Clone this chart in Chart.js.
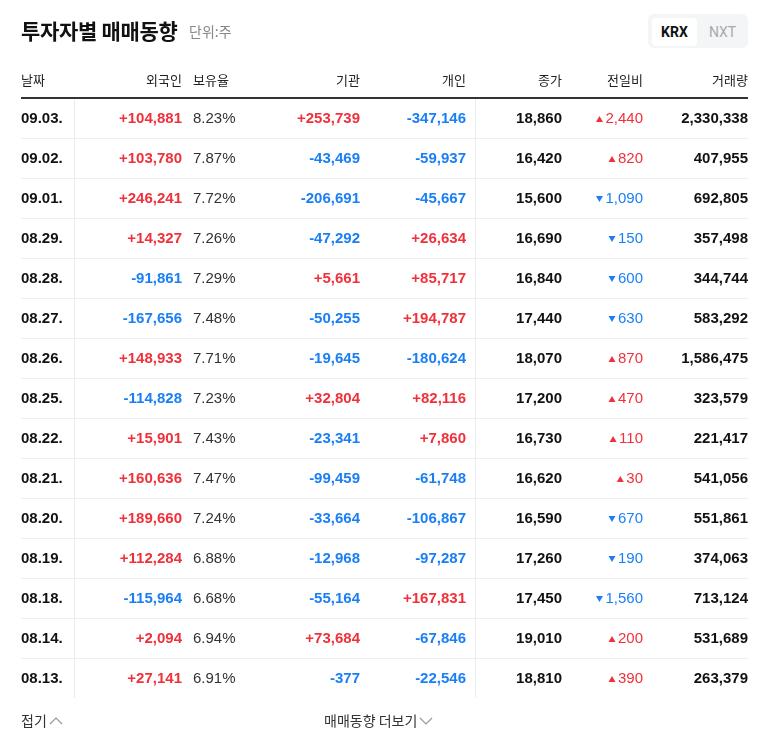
<!DOCTYPE html>
<html><head><meta charset="utf-8">
<script src="https://cdn.jsdelivr.net/npm/chart.js@4/dist/chart.umd.min.js"></script>
<style>
body{margin:0;background:#fff;font-family:"Noto Sans CJK KR","Noto Sans",sans-serif;}
#wrap{position:relative;width:768px;height:749px;}
canvas{position:absolute;left:0;top:0;}
.t{position:absolute;white-space:nowrap;}
</style></head><body>
<div id="wrap">
<canvas id="c" width="768" height="749"></canvas>
<div class="t" style="left:21px;top:15px;font-size:21px;font-weight:700;color:#111;letter-spacing:-0.3px;">투자자별 매매동향</div>
<div class="t" style="left:189px;top:21px;font-size:14px;color:#888;">단위:주</div>
<div class="t" style="left:648px;top:14px;width:100px;height:34px;background:#f4f5f7;border-radius:6px;"></div>
<div class="t" style="left:652px;top:18px;width:45px;height:28px;background:#fff;border-radius:4px;text-align:center;line-height:28px;font-size:14px;font-weight:700;color:#111;font-family:Roboto,sans-serif;">KRX</div>
<div class="t" style="left:700px;top:18px;width:45px;height:28px;text-align:center;line-height:28px;font-size:14px;color:#aaa;font-family:Roboto,sans-serif;">NXT</div>
<div class="t" style="left:21px;top:710px;font-size:14px;color:#333;">접기<svg width="14" height="10" style="margin-left:2px"><polyline points="1,8 7,2 13,8" fill="none" stroke="#999" stroke-width="1.2"/></svg></div>
<div class="t" style="left:324px;top:710px;font-size:14px;color:#333;">매매동향 더보기<svg width="14" height="10" style="margin-left:2px"><polyline points="1,2 7,8 13,2" fill="none" stroke="#999" stroke-width="1.2"/></svg></div>
</div>
<script>
const headers=["날짜","외국인","보유율","기관","개인","종가","전일비","거래량"];
const dates=["09.03.","09.02.","09.01.","08.29.","08.28.","08.27.","08.26.","08.25.","08.22.","08.21.","08.20.","08.19.","08.18.","08.14.","08.13."];
const foreign=[104881,103780,246241,14327,-91861,-167656,148933,-114828,15901,160636,189660,112284,-115964,2094,27141];
const holdRatio=["8.23%","7.87%","7.72%","7.26%","7.29%","7.48%","7.71%","7.23%","7.43%","7.47%","7.24%","6.88%","6.68%","6.94%","6.91%"];
const inst=[253739,-43469,-206691,-47292,5661,-50255,-19645,32804,-23341,-99459,-33664,-12968,-55164,73684,-377];
const indiv=[-347146,-59937,-45667,26634,85717,194787,-180624,82116,7860,-61748,-106867,-97287,167831,-67846,-22546];
const close=[18860,16420,15600,16690,16840,17440,18070,17200,16730,16620,16590,17260,17450,19010,18810];
const change=[2440,820,-1090,-150,-600,-630,870,470,110,30,-670,-190,-1560,200,390];
const volume=[2330338,407955,692805,357498,344744,583292,1586475,323579,221417,541056,551861,374063,713124,531689,263379];

const RED="#f0313b",BLUE="#1a7ff5",DARK="#111";
const fmt=n=>Math.abs(n).toLocaleString('en-US');
const sgn=n=>(n>0?"+":n<0?"-":"")+fmt(n);
const col=n=>n>0?RED:n<0?BLUE:DARK;
const NUM='"Liberation Sans Narrow","Liberation Sans",Roboto,sans-serif';

const tablePlugin={id:'table',afterDraw(chart){
  const ctx=chart.ctx,y=chart.scales.y,a=chart.chartArea;
  ctx.save();
  ctx.font='13px "Noto Sans CJK KR"';ctx.fillStyle='#222';ctx.textBaseline='middle';
  const hx=[[21,'left'],[182,'right'],[193,'left'],[360,'right'],[466,'right'],[562,'right'],[643,'right'],[748,'right']];
  headers.forEach((h,i)=>{ctx.textAlign=hx[i][1];ctx.fillText(h,hx[i][0],80);});
  ctx.fillStyle='#333';ctx.fillRect(21,a.top-1,727,2);
  ctx.fillStyle='#ececec';ctx.fillRect(74,a.top+1,1,a.bottom-a.top-1);ctx.fillRect(475,a.top+1,1,a.bottom-a.top-1);
  dates.forEach((d,i)=>{
    const cy=y.getPixelForValue(i)+1;
    if(i<dates.length-1){ctx.fillStyle='#efefef';ctx.fillRect(21,cy+19,727,1);}
    ctx.font='bold 15px '+NUM;ctx.textAlign='left';ctx.fillStyle=DARK;ctx.fillText(d,21,cy);
    ctx.textAlign='right';
    ctx.fillStyle=col(foreign[i]);ctx.fillText(sgn(foreign[i]),182,cy);
    ctx.fillStyle=col(inst[i]);ctx.fillText(sgn(inst[i]),360,cy);
    ctx.fillStyle=col(indiv[i]);ctx.fillText(sgn(indiv[i]),466,cy);
    ctx.fillStyle=DARK;ctx.fillText(fmt(close[i]),562,cy);ctx.fillText(fmt(volume[i]),748,cy);
    ctx.font='15px '+NUM;ctx.textAlign='left';ctx.fillStyle='#333';ctx.fillText(holdRatio[i],193,cy);
    ctx.textAlign='right';const c=change[i]>0?RED:BLUE;ctx.fillStyle=c;
    const s=fmt(change[i]);ctx.fillText(s,643,cy);
    const w=ctx.measureText(s).width,tx=643-w-6;
    ctx.beginPath();
    if(change[i]>0){ctx.moveTo(tx-3.5,cy+3);ctx.lineTo(tx+3.5,cy+3);ctx.lineTo(tx,cy-3);}
    else{ctx.moveTo(tx-3.5,cy-3);ctx.lineTo(tx+3.5,cy-3);ctx.lineTo(tx,cy+3);}
    ctx.closePath();ctx.fill();
  });
  ctx.restore();
}};

new Chart(document.getElementById('c'),{
  type:'bar',
  data:{labels:dates,datasets:[{data:dates.map(()=>0),backgroundColor:'rgba(0,0,0,0)'}]},
  options:{responsive:false,animation:false,indexAxis:'y',
    layout:{padding:{top:98,bottom:51,left:0,right:0}},
    plugins:{legend:{display:false},tooltip:{enabled:false}},
    scales:{y:{display:false,offset:true},x:{display:false,min:0,max:1}}},
  plugins:[tablePlugin]
});
</script>
</body></html>
